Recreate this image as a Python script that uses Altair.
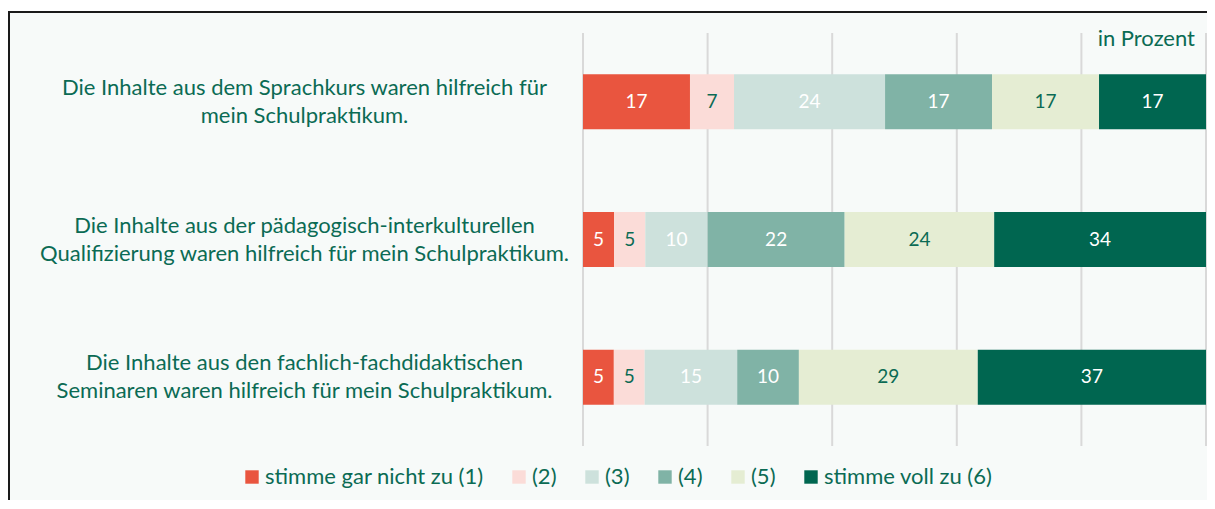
import altair as alt
import pandas as pd

# ---- data ----
items = [
    "Die Inhalte aus dem Sprachkurs waren hilfreich für|mein Schulpraktikum.",
    "Die Inhalte aus der pädagogisch-interkulturellen|Qualifizierung waren hilfreich für mein Schulpraktikum.",
    "Die Inhalte aus den fachlich-fachdidaktischen|Seminaren waren hilfreich für mein Schulpraktikum.",
]
categories = ["stimme gar nicht zu (1)", "(2)", "(3)", "(4)", "(5)", "stimme voll zu (6)"]
row1 = [17, 7, 24, 17, 17, 17]
row2 = [5, 5, 10, 22, 24, 34]
row3 = [5, 5, 15, 10, 29, 37]
colors = ["#E9553F", "#FBDCD8", "#CDE1DC", "#80B3A6", "#E5EDD3", "#006650"]
dark_text_categories = ["(2)", "(5)"]
grid_ticks = [0, 0.2, 0.4, 0.6, 0.8, 1.0]

TXT = "#0B6B54"
BG = "#F7FAF9"
FONT = "Lato"

rows = []
for item, vals in zip(items, [row1, row2, row3]):
    for i, (c, v) in enumerate(zip(categories, vals)):
        rows.append({"item": item, "cat": c, "order": i, "value": v})
df = pd.DataFrame(rows)
grid_df = pd.DataFrame({"g": grid_ticks})

W, H = 623, 413

base = alt.Chart(df).transform_stack(
    stack="value", groupby=["item"], as_=["x0", "x1"], offset="normalize",
    sort=[alt.SortField("order", order="ascending")],
).transform_calculate(mid="(datum.x0 + datum.x1) / 2")

xscale = alt.Scale(domain=[0, 1], nice=False, zero=False)
yscale = alt.Scale(domain=items, paddingInner=0.6, paddingOuter=0.3)

frame = alt.Chart(alt.Data(values=[{"a": 1}])).mark_rect(
    fill=BG, stroke="#1a1a1a", strokeWidth=2
).encode(
    x=alt.value(-574), x2=alt.value(1000), y=alt.value(-21), y2=alt.value(1000)
)

grid = alt.Chart(grid_df).mark_rule(color="#D9D9D9", strokeWidth=2).encode(
    x=alt.X("g:Q", scale=xscale, axis=None)
)

bars = base.mark_bar(size=55).encode(
    x=alt.X("x0:Q", scale=xscale, axis=None),
    x2="x1:Q",
    y=alt.Y(
        "item:N", scale=yscale, sort=items,
        axis=alt.Axis(
            title=None, domain=False, ticks=False, grid=False, zindex=2,
            labelAlign="center", labelPadding=279, labelOffset=-14,
            labelExpr="split(datum.label, '|')",
            labelFontSize=22, labelColor=TXT, labelLineHeight=28,
            labelLimit=0, labelFont=FONT,
        ),
    ),
    color=alt.Color(
        "cat:N",
        scale=alt.Scale(domain=categories, range=colors),
        legend=alt.Legend(
            title=None, orient="none", direction="horizontal",
            legendX=-342, legendY=433, zindex=2,
            symbolType="square", symbolSize=180, symbolStrokeWidth=0,
            labelFontSize=22, labelColor=TXT, labelFont=FONT,
            labelOffset=2, columnPadding=24, labelLimit=0,
        ),
    ),
    order=alt.Order("order:Q"),
)

text_white = base.mark_text(fontSize=19, color="white", font=FONT).encode(
    x=alt.X("mid:Q", scale=xscale), y=alt.Y("item:N", scale=yscale, sort=items),
    text="value:Q",
).transform_filter(
    alt.FieldOneOfPredicate(field="cat", oneOf=[c for c in categories if c not in dark_text_categories])
)

text_dark = base.mark_text(fontSize=19, color=TXT, font=FONT).encode(
    x=alt.X("mid:Q", scale=xscale), y=alt.Y("item:N", scale=yscale, sort=items),
    text="value:Q",
).transform_filter(alt.FieldOneOfPredicate(field="cat", oneOf=dark_text_categories))

unit = alt.Chart(alt.Data(values=[{"t": "in Prozent"}])).mark_text(
    fontSize=22, color=TXT, font=FONT, align="right", baseline="middle", dx=-11
).encode(x=alt.datum(1, scale=xscale), y=alt.value(6), text="t:N")

chart = alt.layer(frame, grid, bars, text_white, text_dark, unit).properties(
    width=W, height=H,
    autosize=alt.AutoSizeParams(type="none"),
    padding={"left": 575, "top": 25, "right": 1, "bottom": 54},
).configure(background="white", font=FONT).configure_view(stroke=None)

chart.save("out.html", embed_options={"renderer": "svg", "actions": False})
